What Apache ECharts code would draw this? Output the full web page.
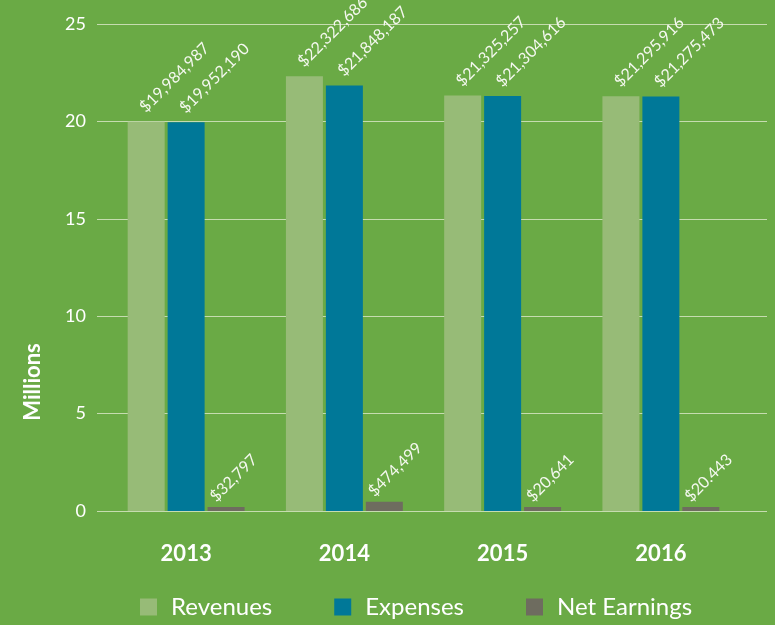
<!DOCTYPE html>
<html>
<head>
<meta charset="utf-8">
<script src="https://cdn.jsdelivr.net/npm/echarts@6/dist/echarts.min.js"></script>
<style>
  html, body { margin: 0; padding: 0; background: #6aaa45; }
  #chart { width: 775px; height: 625px; }
</style>
</head>
<body>
<div id="chart"></div>
<script>
var years = ["2013", "2014", "2015", "2016"];
var revenues = [19984987, 22322686, 21325257, 21295916];
var expenses = [19952190, 21848187, 21304616, 21275473];
var netEarnings = [32797, 474499, 20641, 20443];
var netLabels = ["$32,797", "$474,499", "$20,641", "$20.443"];
var yTicks = [0, 5, 10, 15, 20, 25];

var chart = echarts.init(document.getElementById("chart"));

function toMillions(arr) {
  return arr.map(function (v) { return v / 1e6; });
}
function money(v) {
  return "$" + Math.round(v * 1e6).toLocaleString("en-US");
}

var labelFont = "Lato";
var gridLine = "#c6dcb0";

function barLabel(pos, custom) {
  return {
    show: true,
    position: pos,
    rotate: 45,
    align: "left",
    verticalAlign: "middle",
    color: "#f4f8ef",
    fontFamily: labelFont,
    fontSize: 16,
    formatter: custom || function (p) { return money(p.value); }
  };
}

var option = {
  backgroundColor: "#6aaa45",
  animation: false,
  grid: [
    { left: 107, right: 35, top: 24, bottom: 114 },
    { left: 97, right: 8, top: 24, bottom: 114 }
  ],
  legend: {
    left: 140,
    top: 595,
    padding: 0,
    itemWidth: 17,
    itemHeight: 17,
    itemGap: 62,
    icon: "rect",
    textStyle: {
      color: "#ffffff",
      fontFamily: labelFont,
      fontSize: 24,
      padding: [0, 0, 0, 9]
    },
    data: ["Revenues", "Expenses", "Net Earnings"]
  },
  graphic: [{
    type: "text",
    x: 33,
    y: 382,
    rotation: Math.PI / 2,
    style: {
      text: "Millions",
      fill: "#ffffff",
      font: "bold 22px Lato",
      align: "center",
      verticalAlign: "middle"
    }
  }],
  xAxis: [
    {
      type: "category",
      gridIndex: 0,
      data: years,
      axisLine: { show: false },
      axisTick: { show: false },
      axisLabel: {
        color: "#ffffff",
        fontFamily: labelFont,
        fontWeight: "bold",
        fontSize: 22,
        margin: 32
      }
    },
    {
      type: "value",
      gridIndex: 1,
      show: false
    }
  ],
  yAxis: [
    {
      type: "value",
      gridIndex: 0,
      min: 0,
      max: 25,
      interval: 5,
      show: false
    },
    {
      type: "value",
      gridIndex: 1,
      min: yTicks[0],
      max: yTicks[yTicks.length - 1],
      interval: 5,
      axisLine: { show: false },
      axisTick: { show: false },
      axisLabel: {
        color: "#ffffff",
        fontFamily: labelFont,
        fontSize: 18,
        margin: 11
      },
      splitLine: { lineStyle: { color: gridLine, width: 1 } }
    }
  ],
  series: [
    {
      name: "Revenues",
      type: "bar",
      xAxisIndex: 0,
      yAxisIndex: 0,
      barWidth: 37,
      barGap: "8%",
      itemStyle: { color: "#97bb77" },
      label: barLabel(["40%", -12]),
      data: toMillions(revenues)
    },
    {
      name: "Expenses",
      type: "bar",
      xAxisIndex: 0,
      yAxisIndex: 0,
      barWidth: 37,
      barGap: "8%",
      itemStyle: { color: "#007898" },
      label: barLabel(["40%", -12]),
      data: toMillions(expenses)
    },
    {
      name: "Net Earnings",
      type: "bar",
      xAxisIndex: 0,
      yAxisIndex: 0,
      barWidth: 37,
      barGap: "8%",
      barMinHeight: 4,
      itemStyle: { color: "#6e6c5f" },
      label: barLabel(["14%", -8], function (p) { return netLabels[p.dataIndex]; }),
      data: toMillions(netEarnings)
    }
  ]
};

chart.setOption(option);
</script>
</body>
</html>
